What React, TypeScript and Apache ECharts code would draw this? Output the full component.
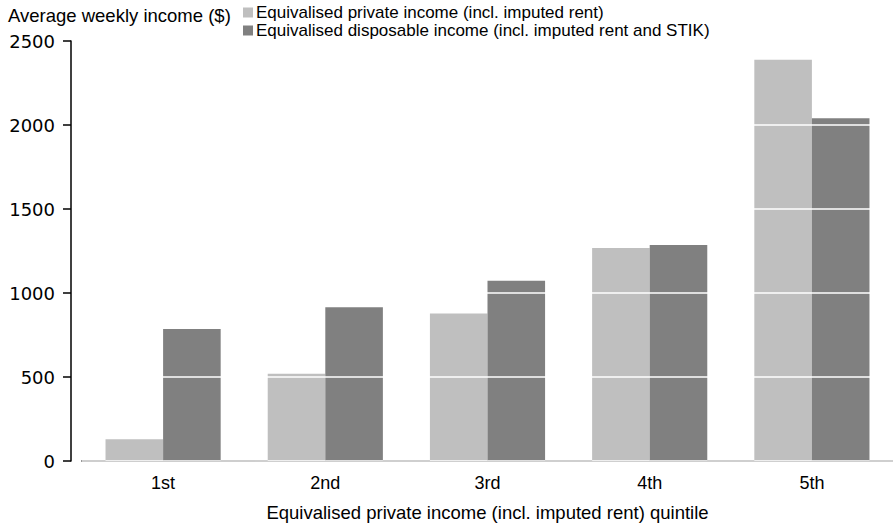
import React, { useEffect, useRef } from "react";
import * as echarts from "echarts";

const categories = ["1st", "2nd", "3rd", "4th", "5th"];
const privateIncome = [130, 520, 878, 1268, 2388];
const disposableIncome = [785, 915, 1073, 1285, 2040];
const seriesNames = [
  "Equivalised private income (incl. imputed rent)",
  "Equivalised disposable income (incl. imputed rent and STIK)",
];
const yTitle = "Average weekly income ($)";
const xTitle = "Equivalised private income (incl. imputed rent) quintile";

const FONT = "Liberation Sans, Arial, sans-serif";
const NUMFONT = "DejaVu Sans, sans-serif";

export default function App() {
  const ref = useRef<HTMLDivElement>(null);
  useEffect(() => {
    if (!ref.current) return;
    const chart = echarts.init(ref.current, undefined, { renderer: "svg" });
    chart.setOption({
      animation: false,
      backgroundColor: "#ffffff",
      textStyle: { fontFamily: FONT, color: "#000" },
      graphic: [
        {
          type: "text",
          left: 8,
          top: 6,
          style: { text: yTitle, fontSize: 18.5, fontFamily: FONT, fill: "#000" },
        },
      ],
      legend: {
        orient: "vertical",
        left: 243,
        top: 4,
        padding: 0,
        itemWidth: 10,
        itemHeight: 10,
        itemGap: 1,
        icon: "rect",
        textStyle: { fontSize: 17, lineHeight: 17, fontFamily: FONT, color: "#000", padding: [0, 0, 0, -2] },
        data: seriesNames,
      },
      grid: { left: 82, top: 41, width: 819, height: 424, containLabel: false },
      xAxis: {
        type: "category",
        data: categories,
        name: xTitle,
        nameLocation: "middle",
        nameGap: 42,
        nameTextStyle: { fontSize: 18.5, fontFamily: FONT, color: "#000" },
        axisLine: { lineStyle: { color: "#000", width: 1.5 } },
        axisTick: { alignWithLabel: true, length: 6, lineStyle: { color: "#000", width: 1.5 } },
        axisLabel: { fontSize: 18, color: "#000", margin: 13, fontFamily: FONT },
      },
      yAxis: {
        type: "value",
        min: 0,
        max: 2500,
        interval: 500,
        offset: 11,
        z: 5,
        axisLine: { show: true, lineStyle: { color: "#000", width: 1.5 } },
        axisTick: { show: true, length: 8, lineStyle: { color: "#000", width: 1.5 } },
        axisLabel: {
          fontSize: 18,
          color: "#000",
          margin: 16,
          fontFamily: NUMFONT,
          formatter: (v: number) => String(v),
        },
        splitLine: { show: true, lineStyle: { color: "#ffffff", width: 1.5 } },
      },
      series: [
        {
          name: seriesNames[0],
          type: "bar",
          data: privateIncome,
          barGap: "0%",
          barCategoryGap: "29%",
          itemStyle: { color: "#bfbfbf" },
        },
        {
          name: seriesNames[1],
          type: "bar",
          data: disposableIncome,
          barGap: "0%",
          barCategoryGap: "29%",
          itemStyle: { color: "#808080" },
        },
      ],
    });
    return () => chart.dispose();
  }, []);
  return <div ref={ref} style={{ width: 893, height: 527, position: "absolute", left: 0, top: 0 }} />;
}
